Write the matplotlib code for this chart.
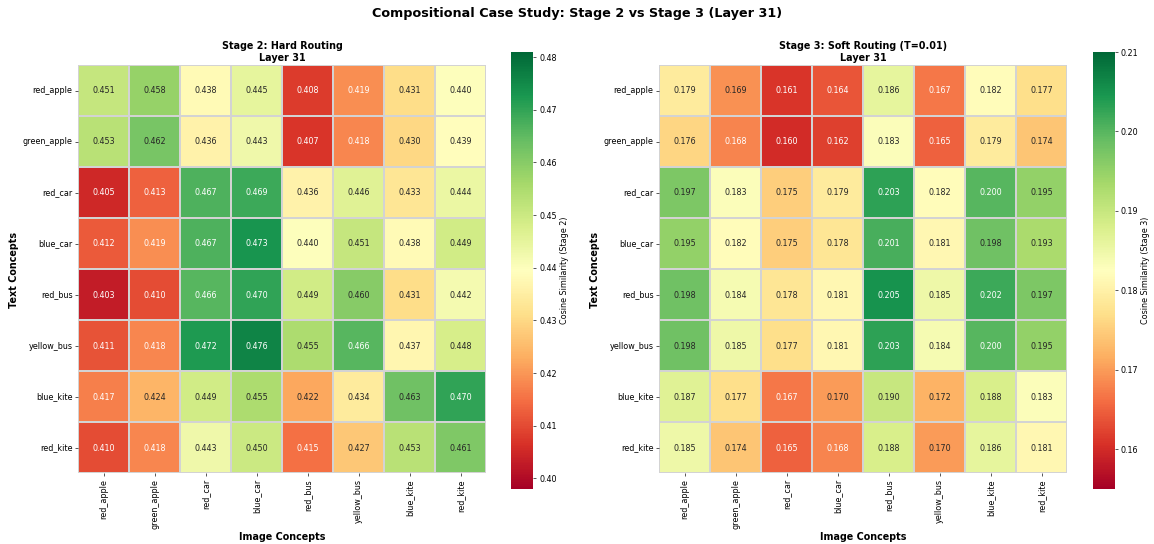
import numpy as np
import matplotlib
matplotlib.use("Agg")
import matplotlib.pyplot as plt
import seaborn as sns

concepts = ["red_apple", "green_apple", "red_car", "blue_car",
            "red_bus", "yellow_bus", "blue_kite", "red_kite"]

# rows = text concepts, columns = image concepts
stage2_sim = [
    [0.451, 0.458, 0.438, 0.445, 0.408, 0.419, 0.431, 0.440],
    [0.453, 0.462, 0.436, 0.443, 0.407, 0.418, 0.430, 0.439],
    [0.405, 0.413, 0.467, 0.469, 0.436, 0.446, 0.433, 0.444],
    [0.412, 0.419, 0.467, 0.473, 0.440, 0.451, 0.438, 0.449],
    [0.403, 0.410, 0.466, 0.470, 0.449, 0.460, 0.431, 0.442],
    [0.411, 0.418, 0.472, 0.476, 0.455, 0.466, 0.437, 0.448],
    [0.417, 0.424, 0.449, 0.455, 0.422, 0.434, 0.463, 0.470],
    [0.410, 0.418, 0.443, 0.450, 0.415, 0.427, 0.453, 0.461],
]

stage3_sim = [
    [0.179, 0.169, 0.161, 0.164, 0.186, 0.167, 0.182, 0.177],
    [0.176, 0.168, 0.160, 0.162, 0.183, 0.165, 0.179, 0.174],
    [0.197, 0.183, 0.175, 0.179, 0.203, 0.182, 0.200, 0.195],
    [0.195, 0.182, 0.175, 0.178, 0.201, 0.181, 0.198, 0.193],
    [0.198, 0.184, 0.178, 0.181, 0.205, 0.185, 0.202, 0.197],
    [0.198, 0.185, 0.177, 0.181, 0.203, 0.184, 0.200, 0.195],
    [0.187, 0.177, 0.167, 0.170, 0.190, 0.172, 0.188, 0.183],
    [0.185, 0.174, 0.165, 0.168, 0.188, 0.170, 0.186, 0.181],
]

panels = [
    (stage2_sim, "Stage 2: Hard Routing\nLayer 31", "Cosine Similarity (Stage 2)"),
    (stage3_sim, "Stage 3: Soft Routing (T=0.01)\nLayer 31", "Cosine Similarity (Stage 3)"),
]

fig = plt.figure(figsize=(20, 9.43), dpi=57.7)

# heatmap box and colorbar box for each panel (figure fractions)
heat_boxes = [[0.0676, 0.1287, 0.3536, 0.752], [0.5711, 0.1287, 0.3536, 0.752]]
cbar_boxes = [[0.4432, 0.1011, 0.0191, 0.8033], [0.9471, 0.1011, 0.0191, 0.8033]]

for (sim, title, cbar_label), hbox, cbox in zip(panels, heat_boxes, cbar_boxes):
    ax = fig.add_axes(hbox)
    cax = fig.add_axes(cbox)
    sim = np.array(sim)
    sns.heatmap(sim, ax=ax, cbar_ax=cax, annot=True, fmt=".3f", cmap="RdYlGn",
                vmin=sim.min() - 0.005, vmax=sim.max() + 0.005,
                xticklabels=concepts, yticklabels=concepts,
                square=True, linewidths=0.5, linecolor="lightgray",
                annot_kws={"fontsize": 10},
                cbar_kws={"label": cbar_label})
    ax.set_title(title, fontsize=12, fontweight="bold")
    ax.set_xlabel("Image Concepts", fontsize=12, fontweight="bold")
    ax.set_ylabel("Text Concepts", fontsize=12, fontweight="bold")
    ax.tick_params(axis="x", rotation=90, labelsize=10)
    ax.tick_params(axis="y", rotation=0, labelsize=10)

fig.suptitle("Compositional Case Study: Stage 2 vs Stage 3 (Layer 31)",
             fontsize=16, fontweight="bold", y=0.987, va="top")
plt.savefig("out.png", dpi=57.7)
